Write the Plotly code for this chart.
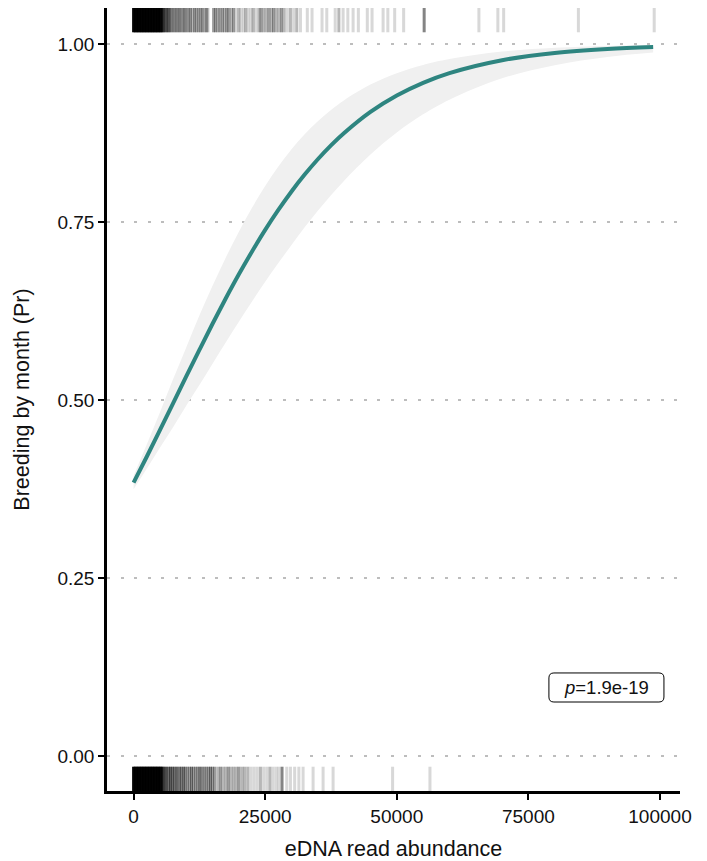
import plotly.graph_objects as go

# Fitted probability of breeding vs eDNA read abundance, with 95% band
fit_x = [0, 2500, 5000, 7500, 10000, 12500, 15000, 17500, 20000, 22500, 25000,
         27500, 30000, 32500, 35000, 37500, 40000, 45000, 50000, 55000, 60000,
         70000, 80000, 90000, 98700]
fit_p = [0.3840, 0.4203, 0.4576, 0.4953, 0.5331, 0.5704, 0.6071, 0.6425, 0.6765, 0.7086, 0.7389,
         0.7669, 0.7929, 0.8166, 0.8382, 0.8577, 0.8751, 0.9047, 0.9277, 0.9455, 0.9592,
         0.9773, 0.9875, 0.9931, 0.9959]
fit_lo = [0.3746, 0.4034, 0.4329, 0.4616, 0.4919, 0.5209, 0.5510, 0.5808, 0.6100, 0.6384, 0.6660,
          0.6924, 0.7176, 0.7425, 0.7658, 0.7877, 0.8081, 0.8449, 0.8757, 0.9012, 0.9218,
          0.9518, 0.9703, 0.9819, 0.9882]
fit_hi = [0.3935, 0.4375, 0.4825, 0.5290, 0.5738, 0.6186, 0.6604, 0.6998, 0.7364, 0.7701, 0.8006,
          0.8279, 0.8522, 0.8731, 0.8914, 0.9073, 0.9211, 0.9430, 0.9590, 0.9707, 0.9791,
          0.9895, 0.9948, 0.9974, 0.9986]

# Observations: read abundance and number of months at each value
breed_x = [0, 300, 600, 900, 1200, 1500, 1800, 2100, 2400, 2700, 3000, 3300, 3600,
           3900, 4200, 4500, 4800, 5100, 5400,
           5700, 6000, 6300, 6600, 6900,
           7200, 7500, 7800, 8100, 8400, 8700, 9000, 9300, 9600, 9900, 10200, 10500, 10800,
           11200, 11600, 11900, 12300, 12700, 13000, 13400, 13800, 14100,
           15200, 15600, 16000, 16400, 16900, 17300, 17700, 18100, 18600, 19000,
           19500, 20000, 20400, 20900, 21300, 21800, 22300, 22700, 23200,
           23800, 24200, 24700, 25200, 25700, 26200, 26600, 27100, 27600, 28100, 28600,
           29200, 29800, 30400, 31000, 31700,
           33000, 33900, 35800, 36700, 38300, 39000, 39800, 40700, 41700, 42700,
           44400, 45300, 47400, 48300, 49600, 51300, 55200, 65600, 69200, 70300,
           84500, 98900]
breed_n = [20, 20, 20, 20, 20, 20, 20, 20, 20, 20, 20, 20, 20,
           20, 20, 20, 20, 16, 12,
           6, 4, 5, 4, 4,
           2, 3, 2, 3, 2, 3, 2, 2, 3, 2, 2, 2, 3,
           2, 3, 2, 3, 2, 3, 2, 3, 2,
           3, 3, 2, 3, 3, 2, 3, 3, 2, 3,
           1, 2, 1, 1, 2, 1, 1, 2, 1,
           2, 3, 2, 2, 3, 2, 3, 2, 2, 3, 2,
           1, 2, 1, 2, 1,
           1, 1, 1, 1, 1, 2, 1, 1, 1, 1,
           1, 1, 1, 1, 1, 1, 4, 1, 1, 1,
           1, 1]

nonbreed_x = [0, 300, 600, 900, 1200, 1500, 1800, 2100, 2400, 2700, 3000, 3300, 3600,
              3900, 4200, 4500, 4800, 5100, 5400,
              5700, 6000, 6300, 6700, 7000, 7400, 7700, 8100, 8400, 8800, 9100, 9500, 9800,
              10200, 10600, 11000, 11400, 11800, 12200, 12600, 13000, 13400, 13800, 14200,
              14600, 15000, 15400,
              16000, 16500, 17000, 17500, 18000, 18500, 19000, 19500, 20000, 20600, 21100, 21700,
              22300, 22900, 23500, 24100, 24700, 25300, 25900, 26500, 27100, 27600,
              28200, 29100, 29800, 30600, 31400, 32200, 34100, 36000, 37900, 49200, 56300]
nonbreed_n = [20, 20, 20, 20, 20, 20, 20, 20, 20, 20, 20, 20, 20,
              20, 20, 20, 20, 16, 12,
              5, 4, 5, 4, 5, 4, 4, 4, 3, 4, 3, 4, 3,
              3, 3, 4, 3, 3, 3, 4, 3, 3, 3, 3,
              4, 3, 3,
              2, 3, 2, 2, 3, 2, 2, 2, 3, 2, 2, 2,
              1, 1, 1, 2, 1, 1, 2, 1, 1, 1,
              4, 1, 1, 1, 1, 1, 1, 1, 1, 1, 1]

y_ticks = [0.0, 0.25, 0.5, 0.75, 1.0]
y_labels = ["0.00", "0.25", "0.50", "0.75", "1.00"]
x_ticks = [0, 25000, 50000, 75000, 100000]
x_labels = ["0", "25000", "50000", "75000", "100000"]
p_label = "<i>p</i>=1.9e-19"

RUG_ALPHA = 0.15
TEAL = "#2e8580"
FONT = "Liberation Sans, Arial, sans-serif"
INK = "#111111"


def stacked_opacity(counts):
    return [1 - (1 - RUG_ALPHA) ** n for n in counts]


fig = go.Figure()

# confidence band
fig.add_trace(go.Scatter(x=fit_x, y=fit_hi, mode="lines", line=dict(width=0, shape="spline"),
                         hoverinfo="skip", showlegend=False))
fig.add_trace(go.Scatter(x=fit_x, y=fit_lo, mode="lines", line=dict(width=0, shape="spline"),
                         fill="tonexty", fillcolor="#f0f0f0", hoverinfo="skip", showlegend=False))
# fitted curve
fig.add_trace(go.Scatter(x=fit_x, y=fit_p, mode="lines",
                         line=dict(color=TEAL, width=4, shape="spline"), showlegend=False))

# rugs (top: breeding months, bottom: non-breeding months)
for xs, ns, yc in [(breed_x, breed_n, 1.0337), (nonbreed_x, nonbreed_n, -0.0323)]:
    fig.add_trace(go.Scatter(
        x=xs, y=[yc] * len(xs), mode="markers", showlegend=False, hoverinfo="skip",
        marker=dict(symbol="line-ns", size=17.5, opacity=stacked_opacity(ns),
                    line=dict(color="black", width=3)),
    ))

# p-value label with rounded frame
bx0, bx1, by0, by1 = 78900, 100750, 0.0758, 0.1166
rx, ry = 950, 0.007
path = (f"M {bx0+rx},{by1} L {bx1-rx},{by1} Q {bx1},{by1} {bx1},{by1-ry} "
        f"L {bx1},{by0+ry} Q {bx1},{by0} {bx1-rx},{by0} L {bx0+rx},{by0} "
        f"Q {bx0},{by0} {bx0},{by0+ry} L {bx0},{by1-ry} Q {bx0},{by1} {bx0+rx},{by1} Z")
fig.add_shape(type="path", path=path, xref="x", yref="y",
              line=dict(color="black", width=1), fillcolor="white")
fig.add_annotation(x=(bx0 + bx1) / 2, y=(by0 + by1) / 2, xref="x", yref="y",
                   text=p_label, showarrow=False,
                   font=dict(family=FONT, size=18.5, color=INK))

fig.update_layout(
    width=707, height=861,
    margin=dict(l=107, r=27, t=8, b=70),
    plot_bgcolor="white", paper_bgcolor="white",
    font=dict(family=FONT, color=INK),
)
fig.update_xaxes(
    range=[-5050, 103800], tickvals=x_ticks, ticktext=x_labels,
    showgrid=False, zeroline=False, automargin=False,
    showline=True, linecolor="black", linewidth=2.5,
    ticks="outside", ticklen=6, tickwidth=2, tickcolor="black",
    tickfont=dict(size=19, color=INK),
    title=dict(text="eDNA read abundance", font=dict(size=21.5, color=INK), standoff=16),
)
fig.update_yaxes(
    range=[-0.0492, 1.0506], tickvals=y_ticks, ticktext=y_labels,
    showgrid=True, gridcolor="#bdbdbd", gridwidth=2, griddash="3px,10.5px",
    zeroline=False, automargin=False,
    showline=True, linecolor="black", linewidth=2.5,
    ticks="outside", ticklen=6, tickwidth=2, tickcolor="black",
    tickfont=dict(size=19, color=INK),
    title=dict(text="Breeding by month (Pr)", font=dict(size=21.5, color=INK), standoff=22),
)

fig.write_html("out.html")
